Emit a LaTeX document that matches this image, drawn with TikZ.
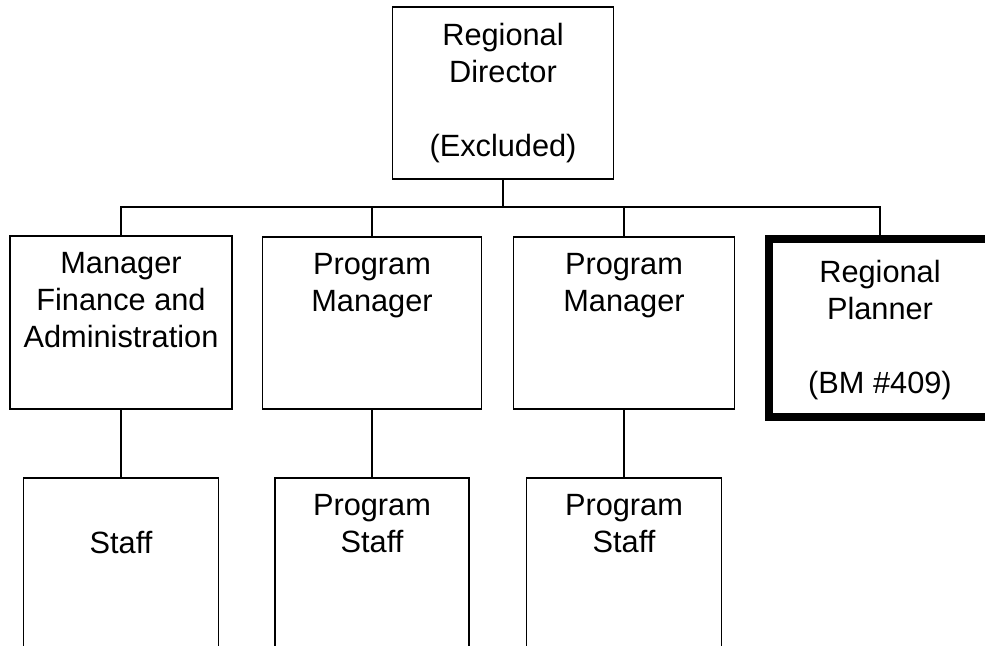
\documentclass[tikz,border=0pt]{standalone}
\usepackage{fontspec}
\setmainfont{Liberation Sans}
\tikzset{
  box/.style={draw, line width=1.1pt, inner sep=0pt, outer sep=0pt},
  heavybox/.style={box, line width=4.5pt},
  boxtext/.style={anchor=north, align=center, inner sep=0pt,
    font=\fontsize{17.5}{21}\selectfont, yshift=-0.32cm},
  link/.style={line width=1.1pt},
}
\begin{document}
\begin{tikzpicture}[x=0.02cm, y=-0.02cm]
\useasboundingbox (0,0) rectangle (985,646);
\clip (0,0) rectangle (985,646);
% director
\node[box, minimum width=4.42cm, minimum height=3.44cm,
  label={[boxtext]north:Regional\\Director\\~\\(Excluded)}] (rd) at (503,93) {};
% second row
\node[box, minimum width=4.44cm, minimum height=3.46cm,
  label={[boxtext]north:Manager\\Finance and\\Administration}] (mfa) at (121,322.5) {};
\node[box, minimum width=4.38cm, minimum height=3.44cm,
  label={[boxtext]north:Program\\Manager}] (pm1) at (372,323) {};
\node[box, minimum width=4.42cm, minimum height=3.44cm,
  label={[boxtext]north:Program\\Manager}] (pm2) at (624,323) {};
\node[heavybox, minimum width=4.44cm, minimum height=3.56cm,
  label={[boxtext, yshift=-0.1cm]north:Regional\\Planner\\~\\(BM \#409)}] (rp) at (880,328) {};
% third row, cut off at the bottom
\node[box, minimum width=3.9cm, minimum height=3.64cm,
  label={[boxtext, yshift=-0.74cm]north:Staff}] (st1) at (121,569) {};
\node[box, minimum width=3.88cm, minimum height=3.64cm,
  label={[boxtext]north:Program\\Staff}] (ps1) at (372,569) {};
\node[box, minimum width=3.9cm, minimum height=3.64cm,
  label={[boxtext]north:Program\\Staff}] (ps2) at (624,569) {};
% connectors
\coordinate (bus) at (503,207);
\draw[link] (rd.south) -- (bus);
\draw[link] (mfa.north) |- (bus) -| (rp.north);
\draw[link] (pm1.north) -- (pm1.north |- bus);
\draw[link] (pm2.north) -- (pm2.north |- bus);
\draw[link] (mfa.south) -- (st1.north);
\draw[link] (pm1.south) -- (ps1.north);
\draw[link] (pm2.south) -- (ps2.north);
\end{tikzpicture}
\end{document}
